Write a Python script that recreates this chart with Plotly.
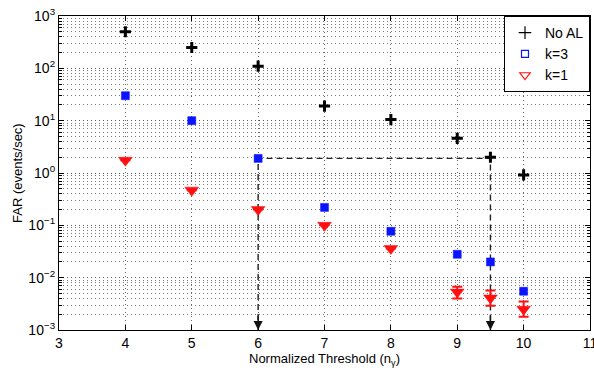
import plotly.graph_objects as go
import math

thresholds = [4, 5, 6, 7, 8, 9, 9.5, 10]
far_no_al = [500, 250, 110, 19, 10.5, 4.6, 2.0, 0.92]
far_k3 = [30, 10, 1.9, 0.22, 0.077, 0.028, 0.020, 0.0055]
far_k3_err_plus = [0, 0, 0, 0, 0, 0, 0, 0.0007]
far_k3_err_minus = [0, 0, 0, 0, 0, 0, 0, 0.0007]
far_k1 = [1.75, 0.47, 0.20, 0.10, 0.036, 0.0053, 0.0041, 0.0025]
far_k1_err_plus = [0, 0, 0, 0, 0, 0.0014, 0.0016, 0.0010]
far_k1_err_minus = [0, 0, 0, 0, 0, 0.0013, 0.0012, 0.0007]

x_ticks = [3, 4, 5, 6, 7, 8, 9, 10, 11]
y_exps = [-3, -2, -1, 0, 1, 2, 3]
y_tick_labels = ["10<sup>%d</sup>" % e if e >= 0 else "10<sup>\u2212%d</sup>" % (-e) for e in y_exps]
y_min_exp, y_max_exp = y_exps[0], y_exps[-1]

font = "Liberation Sans, Arial, Helvetica, sans-serif"

fig = go.Figure()

# dashed guide lines (from k=3 at 6 to No AL at 9.5)
i6 = thresholds.index(6)
i95 = thresholds.index(9.5)
level = far_k3[i6]
bottom = 10 ** y_min_exp
fig.add_trace(go.Scatter(
    x=[thresholds[i6], thresholds[i6], thresholds[i95], thresholds[i95]],
    y=[bottom, level, level, bottom],
    mode="lines", line=dict(color="#222", width=1.4, dash="6px,4px"),
    showlegend=False, hoverinfo="skip"))

fig.add_trace(go.Scatter(
    x=thresholds, y=far_no_al, mode="markers",
    marker=dict(symbol="cross-thin", size=8, color="black",
                line=dict(color="black", width=3)),
    showlegend=False))
fig.add_trace(go.Scatter(
    x=thresholds, y=far_k3, mode="markers",
    marker=dict(symbol="square", size=8, color="#0a14ff",
                line=dict(color="#0a14ff", width=0.5)),
    error_y=dict(type="data", symmetric=False, array=far_k3_err_plus,
                 arrayminus=far_k3_err_minus, color="#0a14ff",
                 thickness=1.5, width=3),
    showlegend=False))
fig.add_trace(go.Scatter(
    x=thresholds, y=far_k1, mode="markers",
    marker=dict(symbol="triangle-down", size=12, color="#ff1010",
                line=dict(color="#ff1010", width=0.5)),
    error_y=dict(type="data", symmetric=False, array=far_k1_err_plus,
                 arrayminus=far_k1_err_minus, color="#ff1010",
                 thickness=2, width=5),
    showlegend=False))

# legend entries (open markers, as in the reference)
fig.add_trace(go.Scatter(x=[None], y=[None], mode="markers", name="No AL",
                         marker=dict(symbol="cross-thin", size=9,
                                     line=dict(color="black", width=1.2))))
fig.add_trace(go.Scatter(x=[None], y=[None], mode="markers", name="k=3",
                         marker=dict(symbol="square-open", size=7,
                                     color="#0a14ff", line=dict(width=1.2))))
fig.add_trace(go.Scatter(x=[None], y=[None], mode="markers", name="k=1",
                         marker=dict(symbol="triangle-down-open", size=9,
                                     color="#ff1010", line=dict(width=1.2))))

# arrow heads at the bottom of the guide lines
for xi in (thresholds[i6], thresholds[i95]):
    fig.add_annotation(x=xi, y=y_min_exp, ax=xi, ay=y_min_exp + 0.3,
                       xref="x", yref="y", axref="x", ayref="y",
                       text="", showarrow=True, arrowhead=2, arrowsize=1.3,
                       arrowwidth=1.4, arrowcolor="#111")

# y-axis title placed as an annotation to match the reference position
fig.add_annotation(x=0, y=0.5, xref="paper", yref="paper", xshift=-42,
                   text="FAR (events/sec)", textangle=-90, showarrow=False,
                   font=dict(size=13), xanchor="center", yanchor="middle")

minor_vals = [k * 10 ** d for d in range(y_min_exp, y_max_exp) for k in range(2, 10)]

fig.update_layout(
    width=594, height=370,
    margin=dict(l=59, r=4, t=16, b=40),
    paper_bgcolor="white", plot_bgcolor="white",
    font=dict(family=font, size=14, color="black"),
    legend=dict(x=1, y=1, xanchor="right", yanchor="top",
                bordercolor="black", borderwidth=1, bgcolor="white",
                font=dict(size=14), itemwidth=30, tracegroupgap=0),
    xaxis=dict(range=[2.9999, 11.0001], tickvals=x_ticks, ticks="inside", ticklen=5,
               tickcolor="black", showline=True, linecolor="black", linewidth=1.2,
               mirror="allticks", showgrid=True, gridcolor="#666",
               griddash="1px,3px", gridwidth=1, zeroline=False, automargin=False,
               tickfont=dict(size=14), ticklabeloverflow="allow",
               title=dict(text="Normalized Threshold (n<sub>γ</sub>)",
                          standoff=1, font=dict(size=13))),
    yaxis=dict(type="log", range=[y_min_exp, y_max_exp],
               tickvals=[10 ** e for e in y_exps], ticktext=y_tick_labels,
               ticks="inside", ticklen=5, tickfont=dict(size=14),
               tickcolor="black", showline=True, linecolor="black", linewidth=1.2,
               mirror="allticks", showgrid=True, gridcolor="#555",
               griddash="1px,3px", gridwidth=1, zeroline=False, automargin=False,
               ticklabeloverflow="allow",
               minor=dict(tickvals=minor_vals, ticks="inside", ticklen=3,
                          tickcolor="black", showgrid=True, gridcolor="#777",
                          griddash="1px,3px", gridwidth=1)),
)

fig.write_html("out.html")
